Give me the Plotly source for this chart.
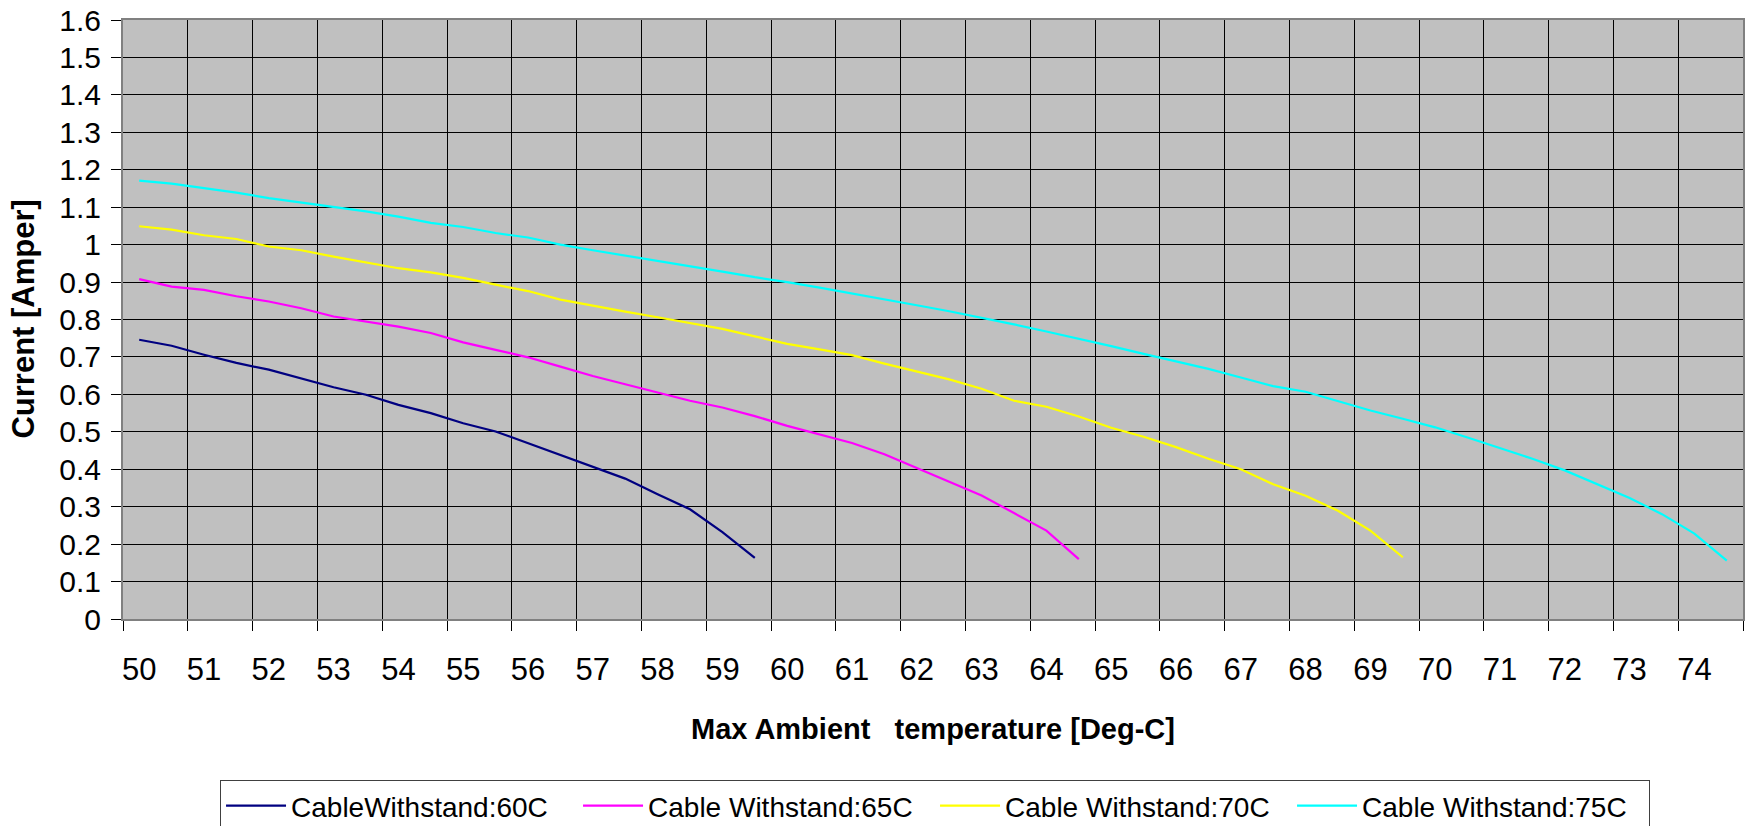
import plotly.graph_objects as go

# x categories: 50, 50.5, ... 74.5 (deg C)
temps = [50 + 0.5 * i for i in range(50)]

i60 = [0.746, 0.730, 0.706, 0.684, 0.666, 0.643, 0.619, 0.599, 0.572, 0.550,
       0.523, 0.501, 0.470, 0.439, 0.408, 0.375, 0.333, 0.293, 0.232, 0.163]

i65 = [0.908, 0.888, 0.879, 0.862, 0.848, 0.830, 0.808, 0.795, 0.781, 0.764,
       0.739, 0.719, 0.699, 0.674, 0.649, 0.627, 0.605, 0.583, 0.565, 0.542,
       0.516, 0.493, 0.470, 0.440, 0.404, 0.367, 0.330, 0.283, 0.236, 0.160]

i70 = [1.049, 1.040, 1.025, 1.015, 0.995, 0.985, 0.968, 0.953, 0.937, 0.926,
       0.911, 0.893, 0.876, 0.853, 0.836, 0.821, 0.806, 0.791, 0.775, 0.755,
       0.735, 0.720, 0.705, 0.682, 0.660, 0.640, 0.615, 0.583, 0.567, 0.541,
       0.511, 0.487, 0.459, 0.428, 0.400, 0.360, 0.329, 0.289, 0.236, 0.165]

i75 = [1.171, 1.163, 1.151, 1.139, 1.124, 1.113, 1.102, 1.089, 1.075, 1.058,
       1.047, 1.031, 1.019, 1.000, 0.985, 0.971, 0.957, 0.943, 0.928, 0.913,
       0.900, 0.885, 0.870, 0.855, 0.838, 0.822, 0.805, 0.787, 0.768, 0.749,
       0.729, 0.708, 0.688, 0.668, 0.645, 0.622, 0.607, 0.581, 0.557, 0.535,
       0.512, 0.485, 0.457, 0.428, 0.397, 0.361, 0.323, 0.280, 0.228, 0.156]

series_names = ["CableWithstand:60C", "Cable Withstand:65C",
                "Cable Withstand:70C", "Cable Withstand:75C"]
series_colors = ["#000080", "#FF00FF", "#FFFF00", "#00FFFF"]

x_labels = [str(v) for v in range(50, 75)]
x_label_pos = list(range(50, 75))
x_bounds = [49.75 + k for k in range(26)]
y_vals = [round(0.1 * k, 1) for k in range(17)]
y_labels = ["0", "0.1", "0.2", "0.3", "0.4", "0.5", "0.6", "0.7", "0.8", "0.9",
            "1", "1.1", "1.2", "1.3", "1.4", "1.5", "1.6"]

FONT = "Liberation Sans, Arial, sans-serif"

fig = go.Figure()
for name, color, ys in zip(series_names, series_colors, [i60, i65, i70, i75]):
    fig.add_trace(go.Scatter(x=temps[:len(ys)], y=ys, mode="lines", name=name,
                             line=dict(color=color, width=2.2)))

fig.update_layout(
    width=1752, height=826,
    margin=dict(l=123, r=9, t=20, b=207, autoexpand=False),
    paper_bgcolor="white",
    plot_bgcolor="#C0C0C0",
    font=dict(family=FONT, color="black"),
    showlegend=True,
    legend=dict(orientation="h", x=0.0599, xanchor="left", y=-0.2688, yanchor="top",
                bordercolor="#404040", borderwidth=1, bgcolor="white",
                font=dict(size=28, family=FONT), itemwidth=60,
                entrywidth=282, entrywidthmode="pixels", tracegroupgap=0),
    xaxis=dict(range=[49.75, 74.75], tickmode="array", tickvals=x_label_pos,
               ticktext=x_labels, ticks="", showgrid=False, zeroline=False,
               tickfont=dict(size=31), showline=True, linecolor="#808080",
               linewidth=2, mirror=True, ticklabelstandoff=22, automargin=False,
               minor=dict(tickmode="array", tickvals=x_bounds, ticks="outside",
                          ticklen=10, tickcolor="black", showgrid=True,
                          gridcolor="black", gridwidth=1)),
    yaxis=dict(range=[0, 1.6], tickmode="array", tickvals=y_vals, ticktext=y_labels,
               ticks="outside", ticklen=10, tickcolor="black", showgrid=True,
               gridcolor="black", gridwidth=1, zeroline=False, automargin=False,
               tickfont=dict(size=30), showline=True, linecolor="#808080",
               linewidth=2, mirror=True, ticklabelstandoff=4),
    annotations=[
        dict(text="<b>Current [Amper]</b>", xref="paper", yref="paper",
             x=-0.0617, y=0.5, textangle=-90, showarrow=False,
             font=dict(size=31, family=FONT), xanchor="center", yanchor="middle"),
        dict(text="<b>Max Ambient\u00a0\u00a0\u00a0temperature [Deg-C]</b>",
             xref="paper", yref="paper", x=0.5, y=-0.1836, showarrow=False,
             font=dict(size=29, family=FONT), xanchor="center", yanchor="middle"),
    ],
)

fig.write_html("out.html")
